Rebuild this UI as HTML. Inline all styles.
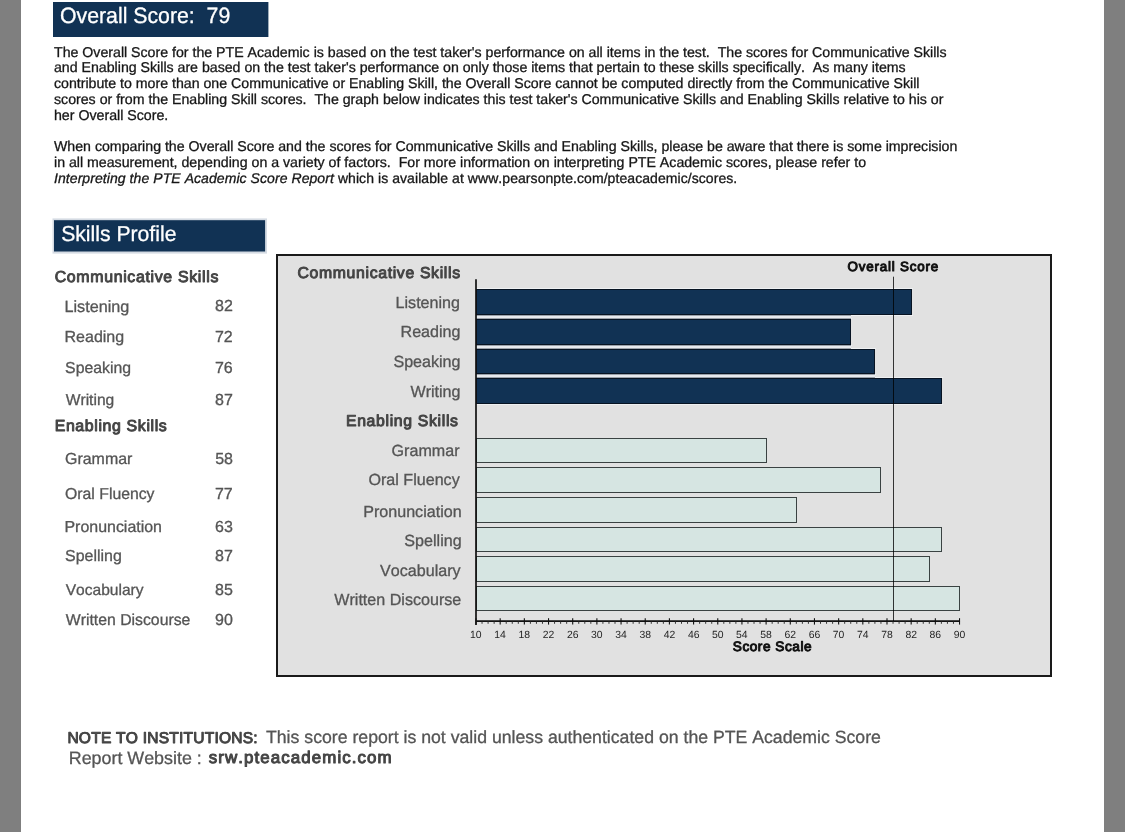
<!DOCTYPE html>
<html><head><meta charset="utf-8"><title>Skills Profile</title>
<style>
html,body{margin:0;padding:0;background:#fff;}
body{width:1125px;height:832px;position:relative;overflow:hidden;font-family:"Liberation Sans",sans-serif;}
.gl{position:absolute;left:0;top:0;width:21px;height:832px;background:#7f7f7f;}
.gr{position:absolute;left:1104px;top:0;width:21px;height:832px;background:#7f7f7f;}
svg{position:absolute;left:0;top:0;will-change:transform;}
.b{stroke:#161616;stroke-width:0.3px;}
.i{stroke:#555555;stroke-width:0.3px;}
.w{stroke:#ffffff;stroke-width:0.3px;}
text{font-family:"Liberation Sans",sans-serif;font-kerning:none;white-space:pre;text-rendering:geometricPrecision;}
</style></head><body>
<div class="gl"></div><div class="gr"></div>
<svg width="1125" height="832" viewBox="0 0 1125 832">
<rect x="53.00" y="2.00" width="215.40" height="35.00" fill="#113254"/>
<text transform="translate(59.99 23.30) scale(0.9586 1)" style="font-size:22.20px;fill:#ffffff" class="w">Overall Score:  79</text>
<text x="54.00" y="57.00" style="font-size:14.17px;fill:#161616" class="b">The Overall Score for the PTE Academic is based on the test taker&#x27;s performance on all items in the test.  The scores for Communicative Skills</text>
<text x="53.99" y="72.30" style="font-size:14.16px;fill:#161616" class="b">and Enabling Skills are based on the test taker&#x27;s performance on only those items that pertain to these skills specifically.  As many items</text>
<text x="53.99" y="88.00" style="font-size:14.16px;fill:#161616" class="b">contribute to more than one Communicative or Enabling Skill, the Overall Score cannot be computed directly from the Communicative Skill</text>
<text x="54.00" y="104.00" style="font-size:14.16px;fill:#161616" class="b">scores or from the Enabling Skill scores.  The graph below indicates this test taker&#x27;s Communicative Skills and Enabling Skills relative to his or</text>
<text x="53.99" y="120.20" style="font-size:14.20px;fill:#161616" class="b">her Overall Score.</text>
<text x="54.00" y="151.00" style="font-size:14.16px;fill:#161616" class="b">When comparing the Overall Score and the scores for Communicative Skills and Enabling Skills, please be aware that there is some imprecision</text>
<text x="53.99" y="166.60" style="font-size:14.16px;fill:#161616" class="b">in all measurement, depending on a variety of factors.  For more information on interpreting PTE Academic scores, please refer to</text>
<text class="b" x="54.00" y="182.80"><tspan style="font-size:14.00px;fill:#161616;font-style:italic;letter-spacing:0.069px">Interpreting the PTE Academic Score Report</tspan><tspan style="font-size:14.00px;fill:#161616;letter-spacing:0.069px"> which is available at www.pearsonpte.com/pteacademic/scores.</tspan></text>
<rect x="52.50" y="218.40" width="214.50" height="35.20" fill="#d5dbe3"/>
<rect x="54.00" y="220.20" width="211.10" height="31.30" fill="#113254"/>
<text transform="translate(61.14 241.20) scale(0.9802 1)" style="font-size:21.60px;fill:#ffffff" class="w">Skills Profile</text>
<text x="54.67" y="282.20" style="font-size:15.90px;fill:#444444;stroke:#444444;stroke-width:0.95px;stroke-linejoin:round;letter-spacing:0.671px">Communicative Skills</text>
<text x="54.67" y="431.00" style="font-size:15.90px;fill:#444444;stroke:#444444;stroke-width:0.95px;stroke-linejoin:round;letter-spacing:0.630px">Enabling Skills</text>
<text x="64.47" y="311.80" style="font-size:16.21px;fill:#555555" class="i">Listening</text>
<text x="215.10" y="311.00" style="font-size:16.00px;fill:#555555" class="i">82</text>
<text x="64.48" y="342.30" style="font-size:16.04px;fill:#555555" class="i">Reading</text>
<text x="214.98" y="342.30" style="font-size:16.00px;fill:#555555" class="i">72</text>
<text x="65.08" y="373.20" style="font-size:15.84px;fill:#555555" class="i">Speaking</text>
<text x="214.98" y="373.20" style="font-size:16.00px;fill:#555555" class="i">76</text>
<text x="65.73" y="404.80" style="font-size:15.61px;fill:#555555" class="i">Writing</text>
<text x="215.10" y="404.80" style="font-size:16.00px;fill:#555555" class="i">87</text>
<text x="65.00" y="464.30" style="font-size:15.96px;fill:#555555" class="i">Grammar</text>
<text x="215.16" y="464.30" style="font-size:16.00px;fill:#555555" class="i">58</text>
<text x="65.05" y="499.20" style="font-size:15.79px;fill:#555555" class="i">Oral Fluency</text>
<text x="214.98" y="499.20" style="font-size:16.00px;fill:#555555" class="i">77</text>
<text x="64.49" y="531.80" style="font-size:15.95px;fill:#555555" class="i">Pronunciation</text>
<text x="214.99" y="531.80" style="font-size:16.00px;fill:#555555" class="i">63</text>
<text x="65.08" y="561.10" style="font-size:15.95px;fill:#555555" class="i">Spelling</text>
<text x="215.10" y="561.10" style="font-size:16.00px;fill:#555555" class="i">87</text>
<text x="65.73" y="594.50" style="font-size:15.57px;fill:#555555" class="i">Vocabulary</text>
<text x="215.10" y="594.50" style="font-size:16.00px;fill:#555555" class="i">85</text>
<text x="65.73" y="625.20" style="font-size:15.81px;fill:#555555" class="i">Written Discourse</text>
<text x="215.05" y="625.20" style="font-size:16.00px;fill:#555555" class="i">90</text>
<rect x="277.00" y="255.00" width="774.00" height="421.00" fill="#e1e1e1" stroke="#1a1a1a" stroke-width="2"/>
<text x="847.47" y="270.60" style="font-size:13.40px;fill:#111;stroke:#111;stroke-width:1.0px;stroke-linejoin:round;letter-spacing:0.805px">Overall Score</text>
<text x="297.47" y="277.70" style="font-size:15.80px;fill:#444444;stroke:#444444;stroke-width:0.95px;stroke-linejoin:round;letter-spacing:0.657px">Communicative Skills</text>
<text x="345.98" y="425.60" style="font-size:15.80px;fill:#444444;stroke:#444444;stroke-width:0.95px;stroke-linejoin:round;letter-spacing:0.662px">Enabling Skills</text>
<rect x="476.00" y="288.00" width="437.00" height="1.00" fill="#eef0f2"/>
<rect x="476.00" y="315.00" width="437.00" height="1.00" fill="#eef0f2"/>
<rect x="476.00" y="318.00" width="376.00" height="1.00" fill="#eef0f2"/>
<rect x="476.00" y="345.00" width="376.00" height="1.00" fill="#eef0f2"/>
<rect x="476.00" y="348.00" width="400.00" height="1.00" fill="#eef0f2"/>
<rect x="476.00" y="374.00" width="400.00" height="1.00" fill="#eef0f2"/>
<rect x="476.00" y="377.00" width="467.00" height="1.00" fill="#eef0f2"/>
<rect x="476.00" y="404.00" width="467.00" height="1.00" fill="#eef0f2"/>
<rect x="476.00" y="315.00" width="375.00" height="4.00" fill="#e6e9ed"/>
<rect x="476.00" y="315.00" width="375.00" height="1.00" fill="#9aa1aa"/>
<rect x="476.00" y="318.00" width="375.00" height="1.00" fill="#9aa1aa"/>
<rect x="476.00" y="345.00" width="375.00" height="4.00" fill="#e6e9ed"/>
<rect x="476.00" y="345.00" width="375.00" height="1.00" fill="#9aa1aa"/>
<rect x="476.00" y="348.00" width="375.00" height="1.00" fill="#9aa1aa"/>
<rect x="476.00" y="374.00" width="399.00" height="4.00" fill="#e6e9ed"/>
<rect x="476.00" y="374.00" width="399.00" height="1.00" fill="#9aa1aa"/>
<rect x="476.00" y="377.00" width="399.00" height="1.00" fill="#9aa1aa"/>
<text x="395.59" y="308.00" style="font-size:16.10px;fill:#555555" class="i">Listening</text>
<rect x="476.50" y="289.50" width="435.00" height="25.00" fill="#113254" stroke="#071322" stroke-width="1"/>
<text x="400.56" y="337.30" style="font-size:16.10px;fill:#555555" class="i">Reading</text>
<rect x="476.50" y="319.50" width="374.00" height="25.00" fill="#113254" stroke="#071322" stroke-width="1"/>
<text x="393.40" y="366.70" style="font-size:16.10px;fill:#555555" class="i">Speaking</text>
<rect x="476.50" y="349.50" width="398.00" height="24.00" fill="#113254" stroke="#071322" stroke-width="1"/>
<text x="410.45" y="397.40" style="font-size:16.10px;fill:#555555" class="i">Writing</text>
<rect x="476.50" y="378.50" width="465.00" height="25.00" fill="#113254" stroke="#071322" stroke-width="1"/>
<text x="391.59" y="456.20" style="font-size:16.10px;fill:#555555" class="i">Grammar</text>
<rect x="476.50" y="438.50" width="290.00" height="24.00" fill="#d6e5e2" stroke="#3a4242" stroke-width="1"/>
<text x="368.47" y="485.10" style="font-size:16.10px;fill:#555555" class="i">Oral Fluency</text>
<rect x="476.50" y="467.50" width="404.00" height="25.00" fill="#d6e5e2" stroke="#3a4242" stroke-width="1"/>
<text x="363.19" y="517.20" style="font-size:16.10px;fill:#555555" class="i">Pronunciation</text>
<rect x="476.50" y="497.50" width="320.00" height="25.00" fill="#d6e5e2" stroke="#3a4242" stroke-width="1"/>
<text x="404.35" y="545.90" style="font-size:16.10px;fill:#555555" class="i">Spelling</text>
<rect x="476.50" y="527.50" width="465.00" height="24.00" fill="#d6e5e2" stroke="#3a4242" stroke-width="1"/>
<text x="380.08" y="575.70" style="font-size:16.10px;fill:#555555" class="i">Vocabulary</text>
<rect x="476.50" y="556.50" width="453.00" height="25.00" fill="#d6e5e2" stroke="#3a4242" stroke-width="1"/>
<text x="334.28" y="604.70" style="font-size:16.10px;fill:#555555" class="i">Written Discourse</text>
<rect x="476.50" y="586.50" width="483.00" height="24.00" fill="#d6e5e2" stroke="#3a4242" stroke-width="1"/>
<line x1="476.00" y1="279.20" x2="476.00" y2="625.00" stroke="#111" stroke-width="1.7"/>
<line x1="476.00" y1="621.20" x2="960.02" y2="621.20" stroke="#111" stroke-width="1.7"/>
<line x1="476.00" y1="618.20" x2="476.00" y2="624.60" stroke="#111" stroke-width="1.1"/>
<line x1="482.04" y1="621.00" x2="482.04" y2="623.80" stroke="#222" stroke-width="0.9"/>
<line x1="488.09" y1="621.00" x2="488.09" y2="623.80" stroke="#222" stroke-width="0.9"/>
<line x1="494.13" y1="621.00" x2="494.13" y2="623.80" stroke="#222" stroke-width="0.9"/>
<line x1="500.18" y1="618.20" x2="500.18" y2="624.60" stroke="#111" stroke-width="1.1"/>
<line x1="506.22" y1="621.00" x2="506.22" y2="623.80" stroke="#222" stroke-width="0.9"/>
<line x1="512.26" y1="621.00" x2="512.26" y2="623.80" stroke="#222" stroke-width="0.9"/>
<line x1="518.31" y1="621.00" x2="518.31" y2="623.80" stroke="#222" stroke-width="0.9"/>
<line x1="524.35" y1="618.20" x2="524.35" y2="624.60" stroke="#111" stroke-width="1.1"/>
<line x1="530.40" y1="621.00" x2="530.40" y2="623.80" stroke="#222" stroke-width="0.9"/>
<line x1="536.44" y1="621.00" x2="536.44" y2="623.80" stroke="#222" stroke-width="0.9"/>
<line x1="542.48" y1="621.00" x2="542.48" y2="623.80" stroke="#222" stroke-width="0.9"/>
<line x1="548.53" y1="618.20" x2="548.53" y2="624.60" stroke="#111" stroke-width="1.1"/>
<line x1="554.57" y1="621.00" x2="554.57" y2="623.80" stroke="#222" stroke-width="0.9"/>
<line x1="560.62" y1="621.00" x2="560.62" y2="623.80" stroke="#222" stroke-width="0.9"/>
<line x1="566.66" y1="621.00" x2="566.66" y2="623.80" stroke="#222" stroke-width="0.9"/>
<line x1="572.70" y1="618.20" x2="572.70" y2="624.60" stroke="#111" stroke-width="1.1"/>
<line x1="578.75" y1="621.00" x2="578.75" y2="623.80" stroke="#222" stroke-width="0.9"/>
<line x1="584.79" y1="621.00" x2="584.79" y2="623.80" stroke="#222" stroke-width="0.9"/>
<line x1="590.84" y1="621.00" x2="590.84" y2="623.80" stroke="#222" stroke-width="0.9"/>
<line x1="596.88" y1="618.20" x2="596.88" y2="624.60" stroke="#111" stroke-width="1.1"/>
<line x1="602.92" y1="621.00" x2="602.92" y2="623.80" stroke="#222" stroke-width="0.9"/>
<line x1="608.97" y1="621.00" x2="608.97" y2="623.80" stroke="#222" stroke-width="0.9"/>
<line x1="615.01" y1="621.00" x2="615.01" y2="623.80" stroke="#222" stroke-width="0.9"/>
<line x1="621.06" y1="618.20" x2="621.06" y2="624.60" stroke="#111" stroke-width="1.1"/>
<line x1="627.10" y1="621.00" x2="627.10" y2="623.80" stroke="#222" stroke-width="0.9"/>
<line x1="633.14" y1="621.00" x2="633.14" y2="623.80" stroke="#222" stroke-width="0.9"/>
<line x1="639.19" y1="621.00" x2="639.19" y2="623.80" stroke="#222" stroke-width="0.9"/>
<line x1="645.23" y1="618.20" x2="645.23" y2="624.60" stroke="#111" stroke-width="1.1"/>
<line x1="651.28" y1="621.00" x2="651.28" y2="623.80" stroke="#222" stroke-width="0.9"/>
<line x1="657.32" y1="621.00" x2="657.32" y2="623.80" stroke="#222" stroke-width="0.9"/>
<line x1="663.36" y1="621.00" x2="663.36" y2="623.80" stroke="#222" stroke-width="0.9"/>
<line x1="669.41" y1="618.20" x2="669.41" y2="624.60" stroke="#111" stroke-width="1.1"/>
<line x1="675.45" y1="621.00" x2="675.45" y2="623.80" stroke="#222" stroke-width="0.9"/>
<line x1="681.50" y1="621.00" x2="681.50" y2="623.80" stroke="#222" stroke-width="0.9"/>
<line x1="687.54" y1="621.00" x2="687.54" y2="623.80" stroke="#222" stroke-width="0.9"/>
<line x1="693.58" y1="618.20" x2="693.58" y2="624.60" stroke="#111" stroke-width="1.1"/>
<line x1="699.63" y1="621.00" x2="699.63" y2="623.80" stroke="#222" stroke-width="0.9"/>
<line x1="705.67" y1="621.00" x2="705.67" y2="623.80" stroke="#222" stroke-width="0.9"/>
<line x1="711.72" y1="621.00" x2="711.72" y2="623.80" stroke="#222" stroke-width="0.9"/>
<line x1="717.76" y1="618.20" x2="717.76" y2="624.60" stroke="#111" stroke-width="1.1"/>
<line x1="723.80" y1="621.00" x2="723.80" y2="623.80" stroke="#222" stroke-width="0.9"/>
<line x1="729.85" y1="621.00" x2="729.85" y2="623.80" stroke="#222" stroke-width="0.9"/>
<line x1="735.89" y1="621.00" x2="735.89" y2="623.80" stroke="#222" stroke-width="0.9"/>
<line x1="741.94" y1="618.20" x2="741.94" y2="624.60" stroke="#111" stroke-width="1.1"/>
<line x1="747.98" y1="621.00" x2="747.98" y2="623.80" stroke="#222" stroke-width="0.9"/>
<line x1="754.02" y1="621.00" x2="754.02" y2="623.80" stroke="#222" stroke-width="0.9"/>
<line x1="760.07" y1="621.00" x2="760.07" y2="623.80" stroke="#222" stroke-width="0.9"/>
<line x1="766.11" y1="618.20" x2="766.11" y2="624.60" stroke="#111" stroke-width="1.1"/>
<line x1="772.16" y1="621.00" x2="772.16" y2="623.80" stroke="#222" stroke-width="0.9"/>
<line x1="778.20" y1="621.00" x2="778.20" y2="623.80" stroke="#222" stroke-width="0.9"/>
<line x1="784.24" y1="621.00" x2="784.24" y2="623.80" stroke="#222" stroke-width="0.9"/>
<line x1="790.29" y1="618.20" x2="790.29" y2="624.60" stroke="#111" stroke-width="1.1"/>
<line x1="796.33" y1="621.00" x2="796.33" y2="623.80" stroke="#222" stroke-width="0.9"/>
<line x1="802.38" y1="621.00" x2="802.38" y2="623.80" stroke="#222" stroke-width="0.9"/>
<line x1="808.42" y1="621.00" x2="808.42" y2="623.80" stroke="#222" stroke-width="0.9"/>
<line x1="814.46" y1="618.20" x2="814.46" y2="624.60" stroke="#111" stroke-width="1.1"/>
<line x1="820.51" y1="621.00" x2="820.51" y2="623.80" stroke="#222" stroke-width="0.9"/>
<line x1="826.55" y1="621.00" x2="826.55" y2="623.80" stroke="#222" stroke-width="0.9"/>
<line x1="832.60" y1="621.00" x2="832.60" y2="623.80" stroke="#222" stroke-width="0.9"/>
<line x1="838.64" y1="618.20" x2="838.64" y2="624.60" stroke="#111" stroke-width="1.1"/>
<line x1="844.68" y1="621.00" x2="844.68" y2="623.80" stroke="#222" stroke-width="0.9"/>
<line x1="850.73" y1="621.00" x2="850.73" y2="623.80" stroke="#222" stroke-width="0.9"/>
<line x1="856.77" y1="621.00" x2="856.77" y2="623.80" stroke="#222" stroke-width="0.9"/>
<line x1="862.82" y1="618.20" x2="862.82" y2="624.60" stroke="#111" stroke-width="1.1"/>
<line x1="868.86" y1="621.00" x2="868.86" y2="623.80" stroke="#222" stroke-width="0.9"/>
<line x1="874.90" y1="621.00" x2="874.90" y2="623.80" stroke="#222" stroke-width="0.9"/>
<line x1="880.95" y1="621.00" x2="880.95" y2="623.80" stroke="#222" stroke-width="0.9"/>
<line x1="886.99" y1="618.20" x2="886.99" y2="624.60" stroke="#111" stroke-width="1.1"/>
<line x1="893.04" y1="621.00" x2="893.04" y2="623.80" stroke="#222" stroke-width="0.9"/>
<line x1="899.08" y1="621.00" x2="899.08" y2="623.80" stroke="#222" stroke-width="0.9"/>
<line x1="905.12" y1="621.00" x2="905.12" y2="623.80" stroke="#222" stroke-width="0.9"/>
<line x1="911.17" y1="618.20" x2="911.17" y2="624.60" stroke="#111" stroke-width="1.1"/>
<line x1="917.21" y1="621.00" x2="917.21" y2="623.80" stroke="#222" stroke-width="0.9"/>
<line x1="923.26" y1="621.00" x2="923.26" y2="623.80" stroke="#222" stroke-width="0.9"/>
<line x1="929.30" y1="621.00" x2="929.30" y2="623.80" stroke="#222" stroke-width="0.9"/>
<line x1="935.34" y1="618.20" x2="935.34" y2="624.60" stroke="#111" stroke-width="1.1"/>
<line x1="941.39" y1="621.00" x2="941.39" y2="623.80" stroke="#222" stroke-width="0.9"/>
<line x1="947.43" y1="621.00" x2="947.43" y2="623.80" stroke="#222" stroke-width="0.9"/>
<line x1="953.48" y1="621.00" x2="953.48" y2="623.80" stroke="#222" stroke-width="0.9"/>
<line x1="959.52" y1="618.20" x2="959.52" y2="624.60" stroke="#111" stroke-width="1.1"/>
<text x="470.02" y="637.80" style="font-size:10.40px;fill:#262626">10</text>
<text x="494.15" y="637.80" style="font-size:10.40px;fill:#262626">14</text>
<text x="518.40" y="637.80" style="font-size:10.40px;fill:#262626">18</text>
<text x="542.74" y="637.80" style="font-size:10.40px;fill:#262626">22</text>
<text x="566.89" y="637.80" style="font-size:10.40px;fill:#262626">26</text>
<text x="591.10" y="637.80" style="font-size:10.40px;fill:#262626">30</text>
<text x="615.23" y="637.80" style="font-size:10.40px;fill:#262626">34</text>
<text x="639.48" y="637.80" style="font-size:10.40px;fill:#262626">38</text>
<text x="663.77" y="637.80" style="font-size:10.40px;fill:#262626">42</text>
<text x="687.91" y="637.80" style="font-size:10.40px;fill:#262626">46</text>
<text x="711.97" y="637.80" style="font-size:10.40px;fill:#262626">50</text>
<text x="736.10" y="637.80" style="font-size:10.40px;fill:#262626">54</text>
<text x="760.35" y="637.80" style="font-size:10.40px;fill:#262626">58</text>
<text x="784.50" y="637.80" style="font-size:10.40px;fill:#262626">62</text>
<text x="808.64" y="637.80" style="font-size:10.40px;fill:#262626">66</text>
<text x="832.79" y="637.80" style="font-size:10.40px;fill:#262626">70</text>
<text x="856.92" y="637.80" style="font-size:10.40px;fill:#262626">74</text>
<text x="881.17" y="637.80" style="font-size:10.40px;fill:#262626">78</text>
<text x="905.42" y="637.80" style="font-size:10.40px;fill:#262626">82</text>
<text x="929.56" y="637.80" style="font-size:10.40px;fill:#262626">86</text>
<text x="953.70" y="637.80" style="font-size:10.40px;fill:#262626">90</text>
<line x1="893.50" y1="276.70" x2="893.50" y2="621.00" stroke="rgba(0,0,0,0.78)" stroke-width="1"/>
<text x="732.78" y="651.00" style="font-size:13.60px;fill:#111;stroke:#111;stroke-width:1.0px;stroke-linejoin:round;letter-spacing:0.550px">Score Scale</text>
<text x="67.40" y="743.10" style="font-size:15.60px;fill:#444444;stroke:#444444;stroke-width:0.95px;stroke-linejoin:round;letter-spacing:0.201px">NOTE TO INSTITUTIONS:</text>
<text x="266.00" y="742.90" style="font-size:17.68px;fill:#555555" class="i">This score report is not valid unless authenticated on the PTE Academic Score</text>
<text x="68.74" y="763.50" style="font-size:17.86px;fill:#555555" class="i">Report Website :</text>
<text x="208.83" y="762.80" style="font-size:16.90px;fill:#444444;stroke:#444444;stroke-width:1.0px;stroke-linejoin:round;letter-spacing:1.081px">srw.pteacademic.com</text>
</svg>
</body></html>
